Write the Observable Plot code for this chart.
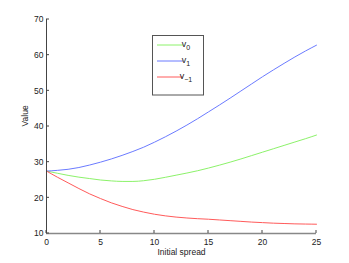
<!DOCTYPE html>
<html><head><meta charset="utf-8">
<script src="https://cdn.jsdelivr.net/npm/d3@7"></script>
<script src="https://cdn.jsdelivr.net/npm/@observablehq/plot@0.6"></script>
<style>
body{margin:0;background:#fff;}
#chart{position:relative;width:349px;height:263px;}
svg{font-family:"Liberation Sans",Arial,sans-serif;}
</style>
</head><body><div id="chart"></div>
<script>
const spread = [0,1,2,3,4,5,6,7,8,9,10,11,12,13,14,15,16,17,18,19,20,21,22,23,24,25];
const v0  = [27.5,26.9,26.3,25.8,25.4,25.0,24.75,24.6,24.6,24.8,25.2,25.75,26.35,26.95,27.6,28.35,29.15,30.0,30.9,31.85,32.8,33.75,34.7,35.65,36.6,37.6];
const v1  = [27.5,27.7,28.0,28.5,29.2,30.0,30.9,31.9,33.0,34.2,35.6,37.1,38.7,40.4,42.2,44.1,46.0,47.95,49.95,51.95,53.95,55.85,57.7,59.5,61.2,62.8];
const vm1 = [27.5,25.8,24.2,22.6,21.1,19.8,18.6,17.6,16.7,16.0,15.4,14.95,14.6,14.35,14.15,14.0,13.8,13.6,13.4,13.2,13.05,12.9,12.8,12.7,12.65,12.6];
const seriesNames = ["v0","v1","v-1"];
const seriesColors = ["#8cf26a","#6b7bff","#ff5a5a"];
const xTicks = [0,5,10,15,20,25];
const yTicks = [10,20,30,40,50,60,70];

const rows = [];
[v0,v1,vm1].forEach((vals,i)=>vals.forEach((v,j)=>rows.push({x:spread[j],y:v,s:seriesNames[i]})));

const plot = Plot.plot({
  width:349, height:263,
  marginLeft:46, marginRight:33, marginTop:19, marginBottom:30,
  style:{fontSize:"8.5px", color:"#222", background:"#fff"},
  x:{type:"linear", domain:[0,25], ticks:xTicks, label:null},
  y:{type:"linear", domain:[10,70], ticks:yTicks, label:null},
  color:{domain:seriesNames, range:seriesColors},
  marks:[
    Plot.line(rows,{x:"x",y:"y",z:"s",stroke:"s",strokeWidth:1,curve:"monotone-x"}),
    Plot.ruleX([0],{stroke:"#444"}),
    Plot.ruleY([10],{stroke:"#888", strokeWidth:1.5}),
    Plot.axisX({ticks:xTicks, tickSize:0, tickPadding:5, fill:"#222"}),
    Plot.axisY({ticks:yTicks, tickSize:0, tickPadding:3, fill:"#222"}),
    Plot.text(["Initial spread"],{frameAnchor:"bottom", dy:21, fill:"#222"}),
    Plot.text(["Value"],{frameAnchor:"left", dx:-21, rotate:-90, fill:"#222"})
  ]
});
document.getElementById("chart").appendChild(plot);

// inward tick marks (MATLAB style)
const svg = d3.select(plot);
const xs = plot.scale("x"), ys = plot.scale("y");
const tg = svg.append("g").attr("stroke","#444").attr("stroke-width",1);
xTicks.forEach(t=>tg.append("line").attr("x1",xs.apply(t)).attr("x2",xs.apply(t)).attr("y1",ys.apply(10)).attr("y2",ys.apply(10)-3));
yTicks.forEach(t=>tg.append("line").attr("x1",xs.apply(0)).attr("x2",xs.apply(0)+3).attr("y1",ys.apply(t)).attr("y2",ys.apply(t)));

// legend inside plot
const lg = svg.append("g");
lg.append("rect").attr("x",152.5).attr("y",35.5).attr("width",51).attr("height",59.5)
  .attr("fill","#fff").attr("stroke","#555").attr("stroke-width",1);
const subs = ["0","1","\u22121"];
seriesNames.forEach((n,i)=>{
  const y = 45 + i*16;
  lg.append("line").attr("x1",157).attr("x2",183).attr("y1",y).attr("y2",y)
    .attr("stroke",seriesColors[i]).attr("stroke-width",1);
  const t = lg.append("text").attr("x",186).attr("y",y+2).attr("font-size","9px").attr("fill","#222");
  t.append("tspan").text("v");
  t.append("tspan").attr("dy",3).attr("font-size","7px").text(subs[i]);
});
</script>
</body></html>
